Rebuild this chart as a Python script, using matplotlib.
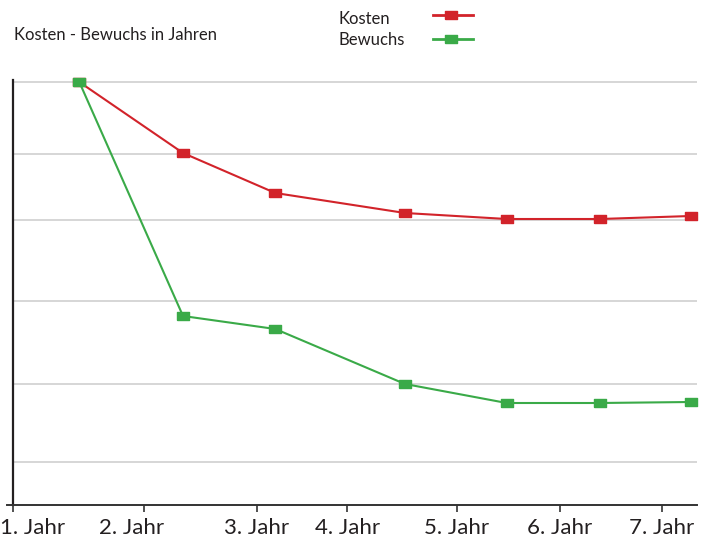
import matplotlib
matplotlib.use('Agg')
import matplotlib.pyplot as plt
from matplotlib.lines import Line2D
from matplotlib.transforms import ScaledTranslation

# horizontal positions of the year ticks and of the measured points
year_labels = ['1. Jahr', '2. Jahr', '3. Jahr', '4. Jahr', '5. Jahr', '6. Jahr', '7. Jahr']
year_ticks = [12.7, 144, 256.7, 347.3, 457, 560, 661.7]
point_pos = [79.3, 183, 275.3, 405, 506.7, 600, 690.7]

kosten = [423, 352, 312, 292, 286, 286, 289]
bewuchs = [423, 189, 176, 121, 102, 102, 103]
grid_levels = [423, 351, 285, 204, 121, 43]

red = '#d2232a'
green = '#3aaa48'

plt.rcParams['font.family'] = ['Lato', 'DejaVu Sans']

W, H = 706, 538
fig = plt.figure(figsize=(W / 100, H / 100), dpi=100)
ax = fig.add_axes([7 / W, 33 / H, (697 - 7) / W, (505 - 80) / H])
ax.set_xlim(7, 697)
ax.set_ylim(0, 425)

ax.hlines(grid_levels, 13, 697, color='#cbcbcb', lw=1.1, zorder=1)

# slightly wide rectangle as marker
box = [(-1.3, -1), (1.3, -1), (1.3, 1), (-1.3, 1), (-1.3, -1)]
ax.plot(point_pos, kosten, color=red, lw=1.5, marker=box, ms=8, clip_on=False, zorder=3)
ax.plot(point_pos, bewuchs, color=green, lw=1.5, marker=box, ms=8, clip_on=False, zorder=4)

for s in ['top', 'right']:
    ax.spines[s].set_visible(False)
ax.spines['left'].set_position(('data', 13))
ax.spines['left'].set_color('#231f20')
ax.spines['left'].set_linewidth(1.6)
ax.spines['bottom'].set_color('#333333')
ax.spines['bottom'].set_linewidth(1.4)

ax.set_yticks([])
ax.set_xticks(year_ticks)
ax.set_xticklabels(year_labels, fontsize=16, color='#231f20')
ax.tick_params(axis='x', direction='out', length=5, width=1.2, color='#333333', pad=4)

# first two labels sit off their ticks
shifts = {0: 20, 1: -12}
for i, lab in enumerate(ax.get_xticklabels()):
    if i in shifts:
        lab.set_transform(lab.get_transform() + ScaledTranslation(shifts[i] / 100, 0, fig.dpi_scale_trans))

fig.text(14 / W, 1 - 40 / H, 'Kosten - Bewuchs in Jahren', fontsize=12, color='#231f20', va='baseline')

# legend drawn by hand: text on the left, line sample on the right
for name, col, base, ymid in [('Kosten', red, 24, 15), ('Bewuchs', green, 45, 39)]:
    fig.text(339 / W, 1 - base / H, name, fontsize=12, color='#231f20', va='baseline')
    fig.add_artist(Line2D([433 / W, 451 / W, 473 / W], [1 - ymid / H] * 3, transform=fig.transFigure,
                          color=col, lw=2, marker=box, ms=8, markevery=[1]))

plt.savefig('out.png', dpi=100)
